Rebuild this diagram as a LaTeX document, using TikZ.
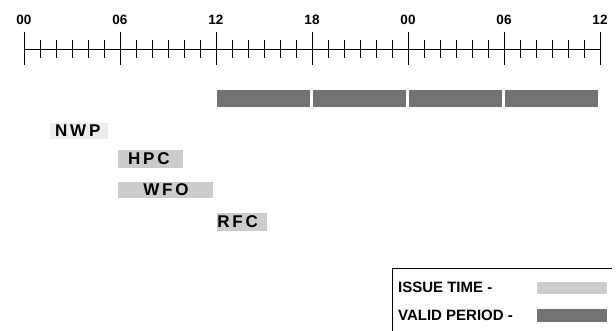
\documentclass[tikz,border=0pt]{standalone}
\usepackage{fontspec}
\setmainfont{Liberation Sans}
\usepackage{xcolor}
\usepackage{tikz}

\begin{document}
\begin{tikzpicture}[x=16pt, y=-1pt,
    hora/.style={font=\bfseries\fontsize{13.5}{13.5}\selectfont, inner sep=0pt},
    tag/.style={font=\bfseries\fontsize{17}{17}\selectfont\addfontfeature{LetterSpace=16}, inner sep=0pt, anchor=west},
    leyenda/.style={font=\bfseries\fontsize{15}{15}\selectfont, inner sep=0pt, anchor=west}]
        \colorlet{emision}{black!20}
        \colorlet{validez}{black!55}
        \useasboundingbox (-1.5,0) rectangle (37,331);
        % eje de tiempo
        \draw[line width=0.7pt] (0,49) -- (36,49);
        \foreach \h in {1,...,35}
            \draw[line width=0.8pt] (\h,40) -- (\h,58);
        \foreach \h/\t in {0/00,6/06,12/12,18/18,24/00,30/06,36/12} {
            \draw[line width=0.9pt] (\h,32) -- (\h,65);
            \node[hora] (hora\h) at (\h,20) {\t};
        }
        % periodos validos
        \foreach \k in {0,1,2,3}
            \fill[validez] (12.05+6*\k,90) rectangle (17.85+6*\k,107);
        % horas de emision
        \fill[black!7] (1.6,123) rectangle (5.25,139);
        \fill[emision] (5.875,150) rectangle (9.95,168);
        \fill[emision] (5.875,182) rectangle (11.8,198);
        \fill[emision] (12.05,213) rectangle (15.2,231);
        \node[tag] (nwp) at (1.94,131) {NWP};
        \node[tag] (hpc) at (6.5,159) {HPC};
        \node[tag] (wfo) at (7.45,190) {WFO};
        \node[tag] (rfc) at (12.08,222) {RFC};
        % leyenda
        \draw[line width=0.8pt] (23,331) -- (23,268) -- (36.75,268);
        \node[leyenda] (issue) at (23.37,287) {ISSUE TIME -};
        \node[leyenda] (valid) at (23.37,315) {VALID PERIOD -};
        \fill[emision] (32.06,282) rectangle (36.44,294);
        \fill[validez] (32.06,309) rectangle (36.44,322);
    \end{tikzpicture}
\end{document}
